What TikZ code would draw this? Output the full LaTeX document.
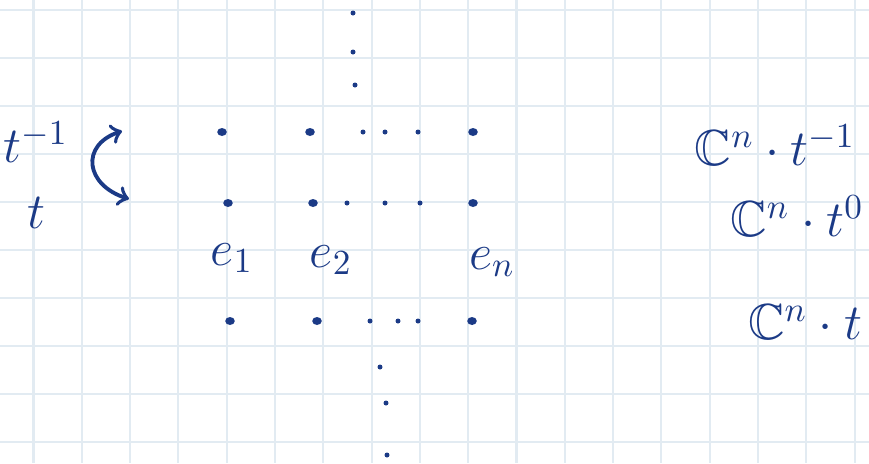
\documentclass[tikz,border=0pt]{standalone}
\usepackage{xcolor}
\usepackage{tikz}
\usetikzlibrary{shapes.geometric}
\usepackage{amsmath,amssymb}
\definecolor{inchiostro}{HTML}{1B3A86}
\definecolor{quadretti}{HTML}{E2EBF2}
\begin{document}
\begin{tikzpicture}[x=0.01cm, y=-0.01cm, font=\Large,
        punto/.style={ellipse, fill=inchiostro, inner sep=0pt, minimum width=0.095cm, minimum height=0.08cm},
        puntino/.style={circle, fill=inchiostro, inner sep=0pt, minimum size=0.05cm},
        scritta/.style={text=inchiostro, inner sep=1pt}]
        \useasboundingbox (0,0) rectangle (869,463);
        % Quadretti del foglio
        \foreach \k in {0,...,17}
            {\draw[quadretti, line width=0.6pt] ({33.5+48.3*\k},0) -- ++(0,463);}
        \foreach \k in {0,...,9}
            {\draw[quadretti, line width=0.6pt] (0,{10+48*\k}) -- ++(869,0);}
        % Righe di punti
        \foreach \r/\y/\a/\b/\c/\d/\e/\f in {
                1/132/222/310/363/385/418/473,
                2/203/228/313/347/385/420/473,
                3/321/230/317/370/398/418/472}
            {
                \node[punto] (p\r a) at (\a,\y) {};
                \node[punto] (p\r b) at (\b,\y) {};
                \node[puntino] (p\r c) at (\c,\y) {};
                \node[puntino] (p\r d) at (\d,\y) {};
                \node[puntino] (p\r e) at (\e,\y) {};
                \node[punto] (p\r f) at (\f,\y) {};
            }
        % Puntini verticali
        \foreach \i/\x/\y in {1/353/13, 2/353/52, 3/355/85, 4/380/367, 5/386/403, 6/387/455}
            {\node[puntino] (v\i) at (\x,\y) {};}
        % Etichette
        \node[scritta] (e1) at (232,258) {$e_1$};
        \node[scritta] (e2) at (331,260) {$e_2$};
        \node[scritta] (en) at (492,262) {$e_n$};
        \node[scritta] (tm) at (36,142) {$t^{-1}$};
        \node[scritta] (tt) at (36,213) {$t$};
        \node[scritta] (c1) at (775,145) {$\mathbb{C}^n\cdot t^{-1}$};
        \node[scritta] (c0) at (797,216) {$\mathbb{C}^n\cdot t^{0}$};
        \node[scritta] (ct) at (805,322) {$\mathbb{C}^n\cdot t$};
        % Freccia
        \coordinate (su) at (122,131);
        \coordinate (giu) at (129,199);
        \draw[<->, line width=1.1pt, inchiostro] (su) .. controls (80,145) and (85,185) .. (giu);
    \end{tikzpicture}
\end{document}
